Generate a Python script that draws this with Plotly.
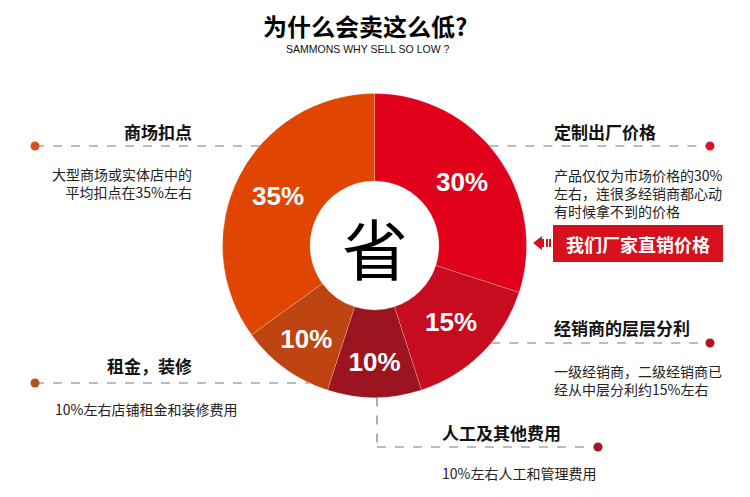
import math
import plotly.graph_objects as go

# ---------------- data ----------------
categories = ["定制出厂价格", "经销商的层层分利", "人工及其他费用", "租金，装修", "商场扣点"]
shares = [30, 15, 10, 10, 35]
descriptions = [
    "产品仅仅为市场价格的30%<br>左右，连很多经销商都心动<br>有时候拿不到的价格",
    "一级经销商，二级经销商已<br>经从中层分利约15%左右",
    "10%左右人工和管理费用",
    "10%左右店铺租金和装修费用",
    "大型商场或实体店中的<br>平均扣点在35%左右",
]
title_text = "为什么会卖这么低?"
subtitle_text = "SAMMONS WHY SELL SO LOW ?"
center_text = "省"
promo_text = "我们厂家直销价格"

# ---------------- style ----------------
slice_colors = ["#E1001B", "#C70C1F", "#9C1420", "#BE4412", "#E04602"]
dot_colors = ["#D4182A", "#B0101F", "#9C1828", "#B4501F", "#DC5020"]
W, H = 750, 497
CJK = "Noto Sans CJK SC, Liberation Sans, sans-serif"
LAT = "Liberation Sans, Arial, Noto Sans CJK SC, sans-serif"
CX, CY, R = 374.5, 245.5, 152.0
HOLE = 0.424
DASH_COLOR = "#7a7a7a"


def px(x):
    return x / W


def py(y):
    return 1 - y / H


def edge_x(y, side):
    dy = y - CY
    return CX + side * math.sqrt(max(R * R - dy * dy, 0))


fig = go.Figure()
fig.add_trace(go.Pie(
    labels=categories,
    values=shares,
    sort=False,
    direction="clockwise",
    rotation=0,
    hole=HOLE,
    marker=dict(colors=slice_colors, line=dict(color="rgba(255,255,255,0.35)", width=0.6)),
    texttemplate="%{value}%",
    textposition="inside",
    insidetextorientation="horizontal",
    textfont=dict(color="white", size=26, family=LAT, weight="bold"),
    hoverinfo="skip",
    showlegend=False,
    domain=dict(x=[px(CX - R), px(CX + R)], y=[py(CY + R), py(CY - R)]),
))

shapes = []
annotations = []


def hline(x0, x1, y):
    shapes.append(dict(type="line", xref="paper", yref="paper",
                       x0=px(x0), x1=px(x1), y0=py(y), y1=py(y),
                       line=dict(color=DASH_COLOR, width=1.2, dash="dash"), layer="below"))


def vline(x, y0, y1):
    shapes.append(dict(type="line", xref="paper", yref="paper",
                       x0=px(x), x1=px(x), y0=py(y0), y1=py(y1),
                       line=dict(color=DASH_COLOR, width=1.2, dash="dash"), layer="below"))


def dot(x, y, color, r=4.5):
    shapes.append(dict(type="circle", xref="paper", yref="paper",
                       x0=px(x - r), x1=px(x + r), y0=py(y + r), y1=py(y - r),
                       fillcolor=color, line=dict(width=0)))


def label(x, y, text, anchor, size, bold=False, color="#111", valign="middle", align=None):
    annotations.append(dict(
        x=px(x), y=py(y), xref="paper", yref="paper", text=text, showarrow=False,
        xanchor=anchor, yanchor=valign, align=align or anchor,
        font=dict(family=CJK, size=size, color=color, weight="bold" if bold else "normal"),
    ))


# 0: right top
hline(edge_x(146, 1), 710, 146)
dot(710, 146, dot_colors[0])
label(552, 132, categories[0], "left", 17, bold=True)
label(552, 163, descriptions[0], "left", 14, color="#222", valign="top")

# 1: right middle
hline(edge_x(343, 1), 710, 343)
dot(710, 343, dot_colors[1])
label(552, 327, categories[1], "left", 17, bold=True)
label(552, 359, descriptions[1], "left", 14, color="#222", valign="top")

# 2: bottom
vline(377, CY + R, 447)
hline(377, 598, 447)
dot(598, 447, dot_colors[2])
label(440, 432, categories[2], "left", 17, bold=True)
label(440, 461, descriptions[2], "left", 14, color="#222", valign="top")

# 3: left bottom
hline(35, edge_x(383, -1), 383)
dot(35, 383, dot_colors[3])
label(194, 365, categories[3], "right", 17, bold=True)
label(53, 397, descriptions[3], "left", 14, color="#222", valign="top")

# 4: left top
hline(35, edge_x(146, -1), 146)
dot(35, 146, dot_colors[4])
label(194, 132, categories[4], "right", 17, bold=True)
label(194, 162, descriptions[4], "right", 14, color="#222", valign="top")

# promo box with arrow
shapes.append(dict(type="rect", xref="paper", yref="paper",
                   x0=px(553), x1=px(723), y0=py(262), y1=py(225),
                   fillcolor="#D7101E", line=dict(width=0)))
shapes.append(dict(type="path", xref="paper", yref="paper",
                   path=f"M {px(533)},{py(243)} L {px(542)},{py(236)} L {px(542)},{py(250)} Z",
                   fillcolor="#D7101E", line=dict(width=0)))
for x0 in (542, 546, 549):
    shapes.append(dict(type="rect", xref="paper", yref="paper",
                       x0=px(x0), x1=px(x0 + 2), y0=py(247), y1=py(239),
                       fillcolor="#D7101E", line=dict(width=0)))
label(638, 243.5, promo_text, "center", 18, bold=True, color="white")

# center character
label(CX, CY, center_text, "center", 66, color="#000")

# title
label(365, 25, title_text, "center", 24, bold=True, color="#000")
annotations.append(dict(x=px(368), y=py(49), xref="paper", yref="paper", text=subtitle_text,
                        showarrow=False, xanchor="center", yanchor="middle",
                        font=dict(family=LAT, size=10.5, color="#111")))

fig.update_layout(
    width=W, height=H,
    margin=dict(l=0, r=0, t=0, b=0),
    paper_bgcolor="white",
    plot_bgcolor="white",
    shapes=shapes,
    annotations=annotations,
    showlegend=False,
)

fig.write_html("out.html")
